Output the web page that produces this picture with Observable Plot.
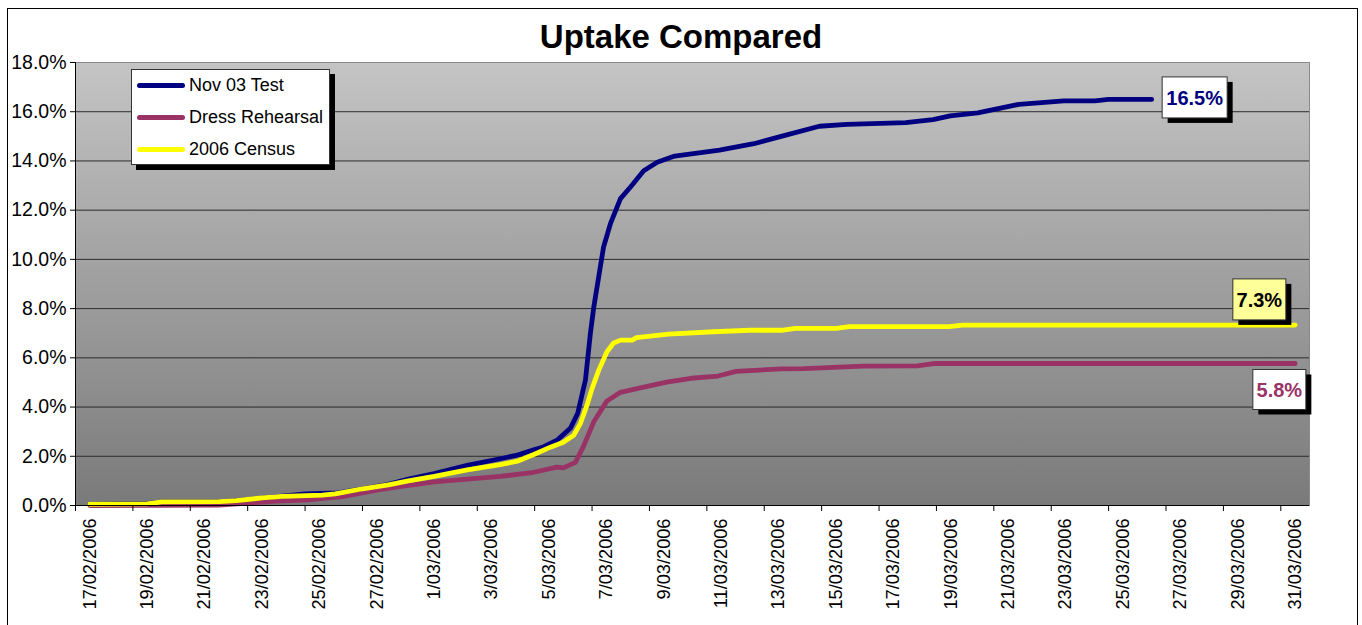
<!DOCTYPE html>
<html>
<head>
<meta charset="utf-8">
<script src="https://cdn.jsdelivr.net/npm/d3@7"></script>
<script src="https://cdn.jsdelivr.net/npm/@observablehq/plot@0.6"></script>
<style>
  body { margin: 0; background: #fff; font-family: "Liberation Sans", Arial, sans-serif; }
  #wrap { position: relative; width: 1362px; height: 625px; overflow: hidden; background: #fff; }
  #border { position: absolute; left: 7px; top: 8px; width: 1351px; height: 660px; border: 1px solid #000; box-sizing: border-box; }
  #title { position: absolute; left: 0; top: 21px; width: 1362px; text-align: center; font-weight: bold; font-size: 33px; line-height: 32px; color: #000; }
  #chart { position: absolute; left: 0; top: 50px; }
  #legend { position: absolute; left: 131px; top: 69px; width: 199px; height: 96px; box-sizing: border-box; background: #fff; border: 1px solid #333; box-shadow: 5px 5px 0 #000; }
  .item { position: absolute; left: 5px; height: 20px; }
  .swatch { position: absolute; left: 0; top: 8px; width: 48px; height: 4.5px; border-radius: 3px; }
  .lab { position: absolute; left: 52px; top: 0; font-size: 18px; line-height: 20px; white-space: nowrap; color: #000; }
</style>
</head>
<body>
<div id="wrap">
  <div id="border"></div>
  <div id="title"></div>
  <div id="chart"></div>
  <div id="legend"></div>
</div>
<script>
// ---- data (values in percent, day = days since 17/02/2006) ----
const titleText = "Uptake Compared";
const seriesNames = ["Nov 03 Test", "Dress Rehearsal", "2006 Census"];
const seriesColors = ["#000080", "#993366", "#FFFF00"];

const testDays = [0, 2, 2.5, 4.5, 5.1, 6, 6.7, 7.5, 8.3, 8.6, 9.5, 10.4, 11.1, 12, 13.15, 14.3, 14.9, 15.47, 15.8, 16.28, 16.75, 17, 17.15, 17.27, 17.44, 17.56, 17.73, 17.9, 18.14, 18.49, 18.84, 19.3, 19.77, 20.38, 21.94, 23.14, 24.22, 25.42, 26.38, 28.43, 29.38, 29.98, 30.94, 32.38, 33.94, 35.02, 35.5, 37];
const testVals = [0.05, 0.08, 0.15, 0.16, 0.2, 0.3, 0.38, 0.47, 0.5, 0.5, 0.68, 0.86, 1.07, 1.3, 1.63, 1.9, 2.05, 2.26, 2.38, 2.65, 3.15, 3.75, 4.5, 5.1, 6.98, 8.06, 9.28, 10.5, 11.45, 12.47, 12.94, 13.6, 13.95, 14.2, 14.44, 14.7, 15.04, 15.41, 15.49, 15.56, 15.68, 15.83, 15.95, 16.3, 16.44, 16.44, 16.5, 16.5];

const rehearsalDays = [0, 4.5, 5.5, 6.5, 7.6, 8.8, 10, 10.8, 12, 13.15, 14.3, 15.47, 16.28, 16.5, 16.92, 17.2, 17.56, 18.02, 18.49, 19.18, 20.1, 20.95, 21.89, 22.52, 24.1, 24.89, 26.94, 28.84, 29.46, 42];
const rehearsalVals = [0, 0.02, 0.1, 0.18, 0.23, 0.36, 0.62, 0.77, 0.96, 1.07, 1.18, 1.35, 1.56, 1.53, 1.75, 2.4, 3.4, 4.25, 4.6, 4.78, 5.01, 5.17, 5.26, 5.45, 5.55, 5.56, 5.66, 5.67, 5.77, 5.77];

const censusDays = [0, 2, 2.5, 4.5, 5.1, 6, 6.7, 8.1, 8.55, 9.5, 10.4, 11.1, 12, 13.15, 14.3, 14.9, 15.47, 16.05, 16.5, 16.86, 17.1, 17.33, 17.5, 17.73, 18.02, 18.25, 18.5, 18.9, 19.05, 20.16, 21.73, 23, 24.1, 24.58, 26, 26.47, 29.94, 30.41, 42];
const censusVals = [0.05, 0.07, 0.15, 0.16, 0.2, 0.31, 0.37, 0.42, 0.47, 0.68, 0.84, 1.0, 1.18, 1.45, 1.66, 1.8, 2.07, 2.37, 2.57, 2.85, 3.35, 4.1, 4.75, 5.49, 6.25, 6.6, 6.72, 6.72, 6.82, 6.96, 7.06, 7.12, 7.12, 7.2, 7.2, 7.27, 7.27, 7.33, 7.33];

const dateLabels = ["17/02/2006", "19/02/2006", "21/02/2006", "23/02/2006", "25/02/2006", "27/02/2006", "1/03/2006", "3/03/2006", "5/03/2006", "7/03/2006", "9/03/2006", "11/03/2006", "13/03/2006", "15/03/2006", "17/03/2006", "19/03/2006", "21/03/2006", "23/03/2006", "25/03/2006", "27/03/2006", "29/03/2006", "31/03/2006"];
const yTicks = [0, 2, 4, 6, 8, 10, 12, 14, 16, 18];

// ---- build tables ----
const seriesData = [
  [seriesNames[0], testDays, testVals],
  [seriesNames[1], rehearsalDays, rehearsalVals],
  [seriesNames[2], censusDays, censusVals]
];
const rows = seriesData.flatMap(([name, ds, vs]) => ds.map((d, i) => ({series: name, day: d, value: vs[i]})));
const labelDays = dateLabels.map((_, i) => i * 2);
const tickMarkDays = dateLabels.map((_, i) => i * 2 - 0.5);

// callout styling (pixel offsets from the final data point)
const calloutStyle = [
  {fill: "#FFFFFF", text: "#000080", dx: 43.5, dy: -1.5, w: 65, h: 41},
  {fill: "#FFFFFF", text: "#993366", dx: -15.3, dy: 26.5, w: 53, h: 40},
  {fill: "#FFFF99", text: "#000000", dx: -35.3, dy: -25.2, w: 53, h: 41}
];

const NS = "http://www.w3.org/2000/svg";
function el(tag, attrs = {}) {
  const e = document.createElementNS(NS, tag);
  for (const k in attrs) e.setAttribute(k, attrs[k]);
  return e;
}

function background(index, scales, values, dims) {
  const g = el("g");
  const defs = el("defs");
  const lg = el("linearGradient", {id: "plotBg", x1: 0, y1: 0, x2: 0, y2: 1});
  lg.appendChild(el("stop", {offset: "0", "stop-color": "#C4C4C4"}));
  lg.appendChild(el("stop", {offset: "1", "stop-color": "#7A7A7A"}));
  defs.appendChild(lg);
  g.appendChild(defs);
  g.appendChild(el("rect", {
    x: dims.marginLeft, y: dims.marginTop,
    width: dims.width - dims.marginLeft - dims.marginRight,
    height: dims.height - dims.marginTop - dims.marginBottom,
    fill: "url(#plotBg)"
  }));
  return g;
}

function callouts(index, scales) {
  const g = el("g");
  seriesData.forEach(([name, ds, vs], i) => {
    const st = calloutStyle[i];
    const px = scales.x(ds[ds.length - 1]);
    const py = scales.y(vs[vs.length - 1]);
    const cx = px + st.dx, cy = py + st.dy;
    g.appendChild(el("rect", {x: cx - st.w / 2 + 5.5, y: cy - st.h / 2 + 5, width: st.w, height: st.h, fill: "#000"}));
    g.appendChild(el("rect", {x: cx - st.w / 2, y: cy - st.h / 2, width: st.w, height: st.h, fill: st.fill, stroke: "#333", "stroke-width": 1}));
    const t = el("text", {x: cx, y: cy, "text-anchor": "middle", dy: "0.36em", fill: st.text, "font-weight": "bold", "font-size": "20px", "font-family": "Liberation Sans, Arial, sans-serif"});
    t.textContent = vs[vs.length - 1].toFixed(1) + "%";
    g.appendChild(t);
  });
  return g;
}

const chart = Plot.plot({
  width: 1362,
  height: 575,
  marginLeft: 75,
  marginRight: 53,
  marginTop: 12,
  marginBottom: 120,
  x: {type: "linear", domain: [-0.5, 42.5]},
  y: {domain: [0, 18]},
  color: {domain: seriesNames, range: seriesColors},
  style: {fontFamily: "Liberation Sans, Arial, sans-serif", fontSize: "18px", color: "#000", background: "transparent", overflow: "visible"},
  marks: [
    background,
    Plot.gridY(yTicks, {stroke: "#2b2b2b", strokeOpacity: 1, strokeWidth: 1}),
    Plot.frame({stroke: "#8a8a8a"}),
    Plot.line(rows, {x: "day", y: "value", z: "series", stroke: "series", strokeWidth: 4.8, strokeLinejoin: "round", strokeLinecap: "round"}),
    Plot.ruleX([-0.5], {stroke: "#000", strokeWidth: 1}),
    Plot.ruleY([0], {stroke: "#000", strokeWidth: 1}),
    Plot.axisY({ticks: yTicks, tickFormat: d => d.toFixed(1) + "%", tickSize: 5, tickPadding: 4, label: null, fontSize: 19.5}),
    Plot.axisX({ticks: tickMarkDays, tickFormat: () => "", tickSize: 6, label: null}),
    Plot.axisX({ticks: labelDays, tickFormat: d => dateLabels[Math.round(d / 2)], tickSize: 0, tickPadding: 13, tickRotate: -90, label: null, fontSize: 18.2}),
    callouts
  ]
});
document.getElementById("chart").appendChild(chart);
document.getElementById("title").textContent = titleText;

const legend = document.getElementById("legend");
seriesNames.forEach((name, i) => {
  const item = document.createElement("div");
  item.className = "item";
  item.style.top = (5 + i * 32) + "px";
  const sw = document.createElement("div");
  sw.className = "swatch";
  sw.style.background = seriesColors[i];
  const lab = document.createElement("div");
  lab.className = "lab";
  lab.textContent = name;
  item.appendChild(sw);
  item.appendChild(lab);
  legend.appendChild(item);
});
</script>
</body>
</html>
